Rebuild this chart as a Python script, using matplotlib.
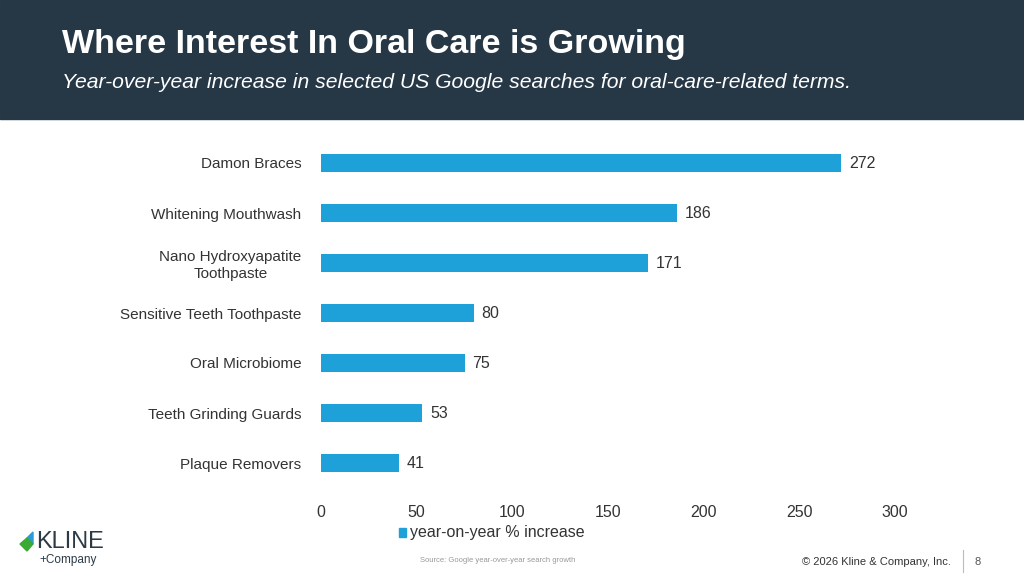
import matplotlib
matplotlib.use("Agg")
import matplotlib.pyplot as plt
from matplotlib.patches import Rectangle

categories = ["Damon Braces", "Whitening Mouthwash", "Nano Hydroxyapatite\nToothpaste",
              "Sensitive Teeth Toothpaste", "Oral Microbiome", "Teeth Grinding Guards", "Plaque Removers"]
values = [272, 186, 171, 80, 75, 53, 41]
xticks = [0, 50, 100, 150, 200, 250, 300]

plt.rcParams['font.family'] = 'sans-serif'
plt.rcParams['font.sans-serif'] = ['Liberation Sans', 'DejaVu Sans']
W, H = 1024, 576
fig = plt.figure(figsize=(W/100, H/100), dpi=100)
fig.patch.set_facecolor("white")

fig.patches.append(Rectangle((0, 1-119/H), 1, 119/H, transform=fig.transFigure, color="#263746", zorder=0))
fig.text(62/W, 1-44/H, "Where Interest In Oral Care is Growing", color="white", fontsize=24.5, fontweight="bold", va="center")
fig.text(62/W, 1-82/H, "Year-over-year increase in selected US Google searches for oral-care-related terms.",
         color="white", fontsize=15.2, style="italic", va="center")

top, bot = 138, 488
ax = fig.add_axes([321/W, 1-bot/H, (895-321)/W, (bot-top)/H])
ypos = list(range(len(categories)))[::-1]
color = "#1EA0D9"
ax.barh(ypos, values, height=0.36, color=color)
for y, v in zip(ypos, values):
    ax.text(v + 4, y, str(v), va="center", ha="left", fontsize=11.5, color="#333333")
ax.set_xlim(0, 300)
ax.set_ylim(-0.5, 6.5)
ax.set_yticks(ypos)
ax.set_yticklabels(categories, fontsize=11, color="#333333", ha="right", multialignment="center")
ax.tick_params(axis="y", length=0, pad=14)
ax.set_xticks(xticks)
ax.set_xticklabels([str(t) for t in xticks], fontsize=11.5, color="#333333")
ax.tick_params(axis="x", length=0, pad=12)
for s in ax.spines.values():
    s.set_visible(False)

fig.patches.append(Rectangle((399/W, 1-537/H), 7/W, 9/H, transform=fig.transFigure, color=color))
fig.text(410/W, 1-532/H, "year-on-year % increase", fontsize=11.5, color="#333333", va="center")

fig.text(420/W, 1-561/H, "Source: Google year-over-year search growth", fontsize=5.5, color="#999999", va="center")
fig.text(951/W, 1-562/H, "\u00a9 2026 Kline & Company, Inc.", fontsize=8, color="#333333", va="center", ha="right")
fig.lines.append(plt.Line2D([963/W, 963/W], [1-550/H, 1-572/H], transform=fig.transFigure, color="#bbbbbb", lw=0.8))
fig.text(978/W, 1-562/H, "8", fontsize=8, color="#555555", va="center", ha="center")

fig.patches.append(plt.Polygon([(27/W, 1-538/H), (33/W, 1-532/H), (33/W, 1-544/H)], closed=True,
                               transform=fig.transFigure, color="#2C9BD5"))
fig.patches.append(plt.Polygon([(20/W, 1-544/H), (27/W, 1-538/H), (33/W, 1-544/H), (27/W, 1-551/H)], closed=True,
                               transform=fig.transFigure, color="#3AAA35"))
fig.text(36/W, 1-542/H, "KLINE", fontsize=17, color="#2D3A46", va="center")
fig.text(39/W, 1-560/H, "+Company", fontsize=8.5, color="#2D3A46", va="center")

fig.savefig("out.png", dpi=100)
